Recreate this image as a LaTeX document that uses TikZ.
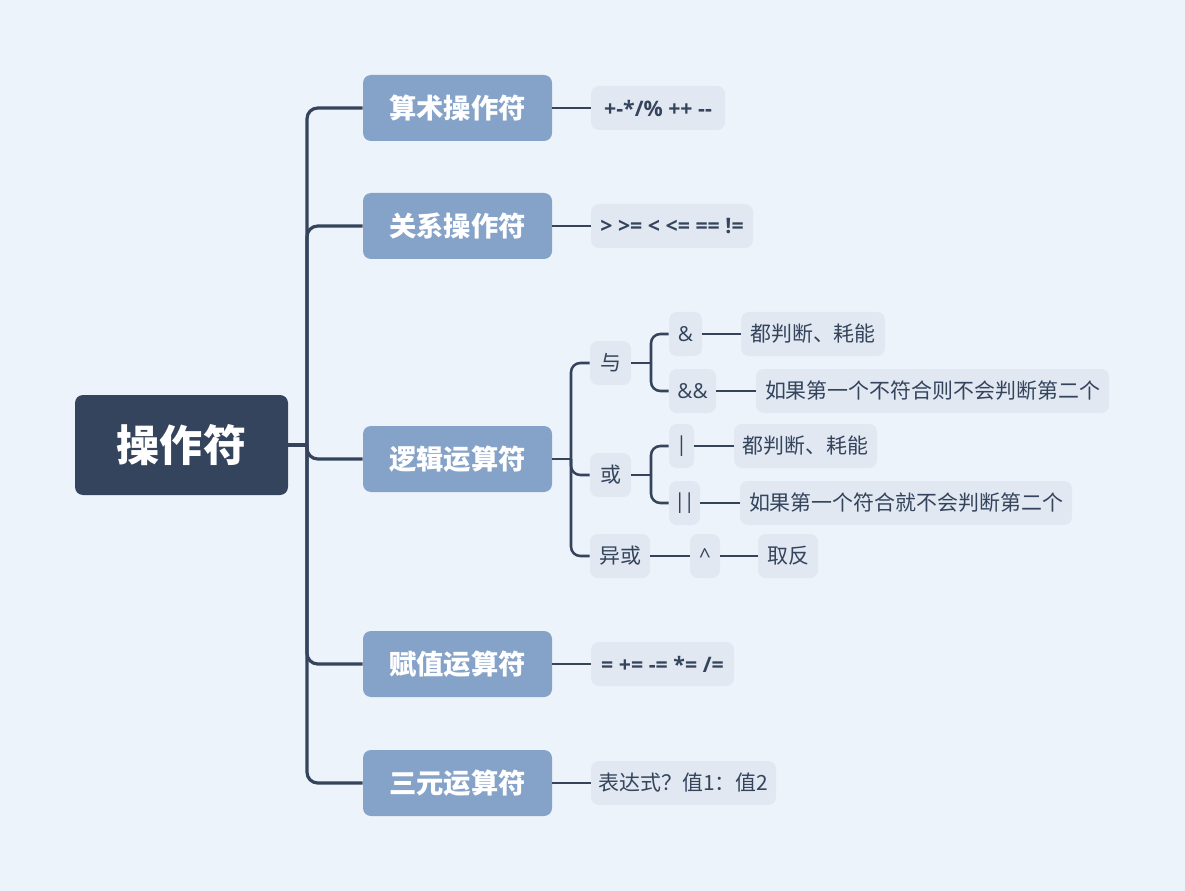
\documentclass[tikz,border=0pt]{standalone}
\usepackage{fontspec}
\setmainfont{Noto Sans CJK SC}
\newfontfamily\opfont{Open Sans}
\definecolor{bg}{RGB}{237,243,250}
\definecolor{rootc}{RGB}{52,68,92}
\definecolor{lvl}{RGB}{133,162,201}
\definecolor{leafc}{RGB}{225,232,241}
\definecolor{ink}{RGB}{52,68,92}
\begin{document}
\begin{tikzpicture}[x=0.75pt,y=-0.75pt,
  rootbox/.style={fill=rootc,text=white,rounded corners=6pt,inner sep=0pt,
    font=\fontsize{32.3}{36}\selectfont\bfseries},
  lvlbox/.style={fill=lvl,text=white,rounded corners=6pt,inner sep=0pt,
    minimum width=141.75pt,minimum height=49.5pt,font=\fontsize{20.5}{24}\selectfont\bfseries},
  leafbox/.style={fill=leafc,text=ink,rounded corners=6pt,inner sep=0pt,
    minimum height=33pt,font=\fontsize{15.7}{18}\selectfont},
  opbox/.style={leafbox,font=\opfont\fontsize{16}{18}\selectfont\bfseries},
  symbox/.style={leafbox,font=\opfont\fontsize{15.5}{18}\selectfont},
  trunk/.style={draw=ink,line width=2.4pt,rounded corners=8pt},
  branch/.style={draw=ink,line width=1.9pt,rounded corners=7pt}]
\path[fill=bg,use as bounding box] (0,0) rectangle (1185,891);
% root
\node[rootbox,minimum width=159.75pt,minimum height=75pt] (root) at (181.5,445) {操作符};
% level 1
\node[lvlbox] (a1) at (457.5,108) {算术操作符};
\node[lvlbox] (a2) at (457.5,226) {关系操作符};
\node[lvlbox] (a3) at (457.5,459) {逻辑运算符};
\node[lvlbox] (a4) at (457.5,664) {赋值运算符};
\node[lvlbox] (a5) at (457.5,783) {三元运算符};
% leaves
\node[opbox,minimum width=100.5pt] (b1) at (658,108) {+{-}*/\% ++ {-}{-}};
\node[opbox,minimum width=121.5pt] (b2) at (672,226) {> >= < <= == !=};
\node[opbox,minimum width=107.25pt] (b4) at (662.5,664) {= += {-}= *= /=};
\node[leafbox,minimum width=138.75pt] (b5) at (683.5,783) {表达式？值1：值2};
% logic subtree
\node[leafbox,minimum width=30.75pt] (yu) at (610.5,363) {与};
\node[leafbox,minimum width=30.75pt] (huo) at (610.5,475) {或};
\node[leafbox,minimum width=45pt] (yh) at (620,556) {异或};
\node[symbox,minimum width=24.75pt] (and1) at (685.5,334) {\&};
\node[symbox,minimum width=35.25pt] (and2) at (692.5,391) {\&\&};
\node[symbox,minimum width=18.75pt] (or1) at (681.5,446) {|};
\node[symbox,minimum width=23.25pt] (or2) at (684.5,503) {|\kern-1.5pt|};
\node[symbox,minimum width=22.5pt] (xor) at (705,556) {\^{}};
\node[leafbox,minimum width=108pt] (d1) at (813,334) {都判断、耗能};
\node[leafbox,minimum width=264.75pt] (d2) at (932.5,391) {如果第一个不符合则不会判断第二个};
\node[leafbox,minimum width=107.25pt] (d3) at (805.5,446) {都判断、耗能};
\node[leafbox,minimum width=249pt] (d4) at (906,503) {如果第一个符合就不会判断第二个};
\node[leafbox,minimum width=45pt] (d5) at (788,556) {取反};
% trunk
\coordinate (j) at (307,445);
\draw[trunk] (root.east) -- (j);
\foreach \n in {a1,a2,a3,a4,a5} \draw[trunk] (j) |- (\n.west);
% level1 to leaves
\draw[branch] (a1.east) -- (b1.west);
\draw[branch] (a2.east) -- (b2.west);
\draw[branch] (a4.east) -- (b4.west);
\draw[branch] (a5.east) -- (b5.west);
% logic
\coordinate (k) at (571,459);
\draw[branch] (a3.east) -- (k);
\foreach \n in {yu,huo,yh} \draw[branch] (k) |- (\n.west);
\coordinate (ky) at (651,363);
\draw[branch] (yu.east) -- (ky);
\foreach \n in {and1,and2} \draw[branch] (ky) |- (\n.west);
\coordinate (kh) at (651,475);
\draw[branch] (huo.east) -- (kh);
\foreach \n in {or1,or2} \draw[branch] (kh) |- (\n.west);
\draw[branch] (and1.east) -- (d1.west);
\draw[branch] (and2.east) -- (d2.west);
\draw[branch] (or1.east) -- (d3.west);
\draw[branch] (or2.east) -- (d4.west);
\draw[branch] (yh.east) -- (xor.west);
\draw[branch] (xor.east) -- (d5.west);
\end{tikzpicture}
\end{document}
